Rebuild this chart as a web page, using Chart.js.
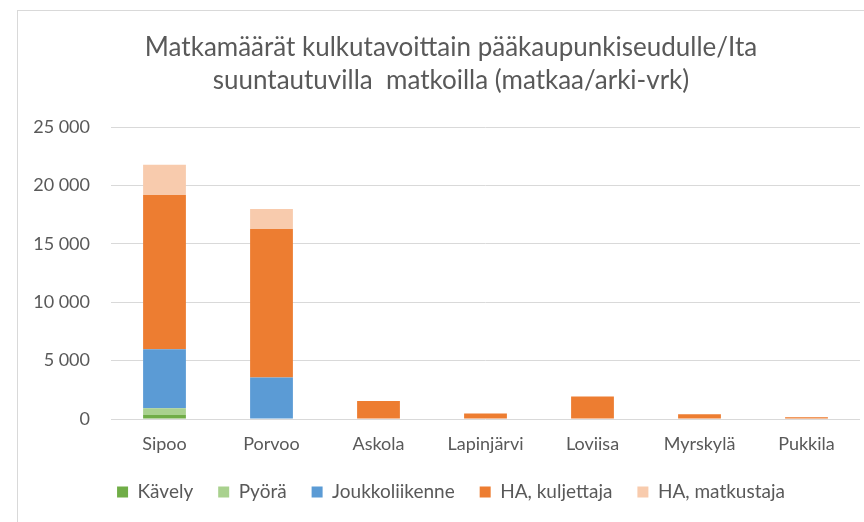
<!DOCTYPE html>
<html lang="fi">
<head>
    <meta charset="UTF-8">
    <title>Matkamäärät kulkutavoittain</title>
    <script src="https://cdn.jsdelivr.net/npm/chart.js"></script>
    <style>
        html, body { margin: 0; padding: 0; background: #fff; overflow: hidden; }
        #frame {
            position: absolute; left: 17px; top: 10px;
            width: 866px; height: 530px;
            border: 1px solid #d9d9d9; background: #fff;
        }
    </style>
</head>
<body>
    <div id="frame"><canvas id="chart" width="866" height="530"></canvas></div>
    <script>
        const kunnat = ['Sipoo', 'Porvoo', 'Askola', 'Lapinjärvi', 'Loviisa', 'Myrskylä', 'Pukkila'];
        const kavely = [350, 0, 0, 0, 0, 0, 0];
        const pyora = [570, 0, 0, 0, 0, 0, 0];
        const joukkoliikenne = [5060, 3560, 0, 0, 0, 0, 0];
        const haKuljettaja = [13200, 12710, 1540, 480, 1930, 400, 150];
        const haMatkustaja = [2590, 1710, 0, 0, 0, 0, 30];
        const yTicks = [0, 5000, 10000, 15000, 20000, 25000];

        const grey = '#595959';
        Chart.defaults.font.family = 'Lato, "Open Sans", sans-serif';
        Chart.defaults.color = grey;

        function sarja(label, data, color) {
            return {
                label: label, data: data, backgroundColor: color,
                borderWidth: 0, barPercentage: 0.4, categoryPercentage: 1
            };
        }

        new Chart(document.getElementById('chart').getContext('2d'), {
            type: 'bar',
            data: {
                labels: kunnat,
                datasets: [
                    sarja('Kävely', kavely, '#70AD47'),
                    sarja('Pyörä', pyora, '#A9D18E'),
                    sarja('Joukkoliikenne', joukkoliikenne, '#5B9BD5'),
                    sarja('HA, kuljettaja', haKuljettaja, '#ED7D31'),
                    sarja('HA, matkustaja', haMatkustaja, '#F8CBAD')
                ]
            },
            options: {
                responsive: false,
                animation: false,
                layout: { padding: { left: 0, right: 0, top: 0, bottom: 29.5 } },
                plugins: {
                    title: {
                        display: true,
                        text: ['Matkamäärät kulkutavoittain pääkaupunkiseudulle/Ita', 'suuntautuvilla  matkoilla (matkaa/arki-vrk)'],
                        font: { size: 26, weight: 'normal', lineHeight: 1.27 },
                        color: grey,
                        padding: { top: 20, bottom: 30 }
                    },
                    legend: {
                        position: 'bottom',
                        labels: { boxWidth: 11, boxHeight: 11, padding: 25, font: { size: 19 }, color: grey }
                    },
                    tooltip: { enabled: false }
                },
                scales: {
                    x: {
                        stacked: true,
                        afterFit: s => { s.height = 38.5; },
                        grid: { display: false, drawTicks: false },
                        border: { display: false },
                        ticks: { font: { size: 18 }, color: grey, padding: 14 }
                    },
                    y: {
                        stacked: true,
                        min: 0, max: 25000,
                        afterBuildTicks: s => { s.ticks = yTicks.map(v => ({ value: v })); },
                        afterFit: s => { s.width = 93; },
                        grid: { color: '#d9d9d9', lineWidth: 1, drawTicks: false },
                        border: { display: false },
                        ticks: {
                            font: { size: 18 }, color: grey, padding: 21,
                            callback: v => v.toString().replace(/\B(?=(\d{3})+(?!\d))/g, ' ')
                        }
                    },
                    oikea: {
                        position: 'right',
                        afterFit: s => { s.width = 24; },
                        grid: { display: false, drawTicks: false },
                        border: { display: false },
                        ticks: { display: false }
                    }
                }
            }
        });
    </script>
</body>
</html>
